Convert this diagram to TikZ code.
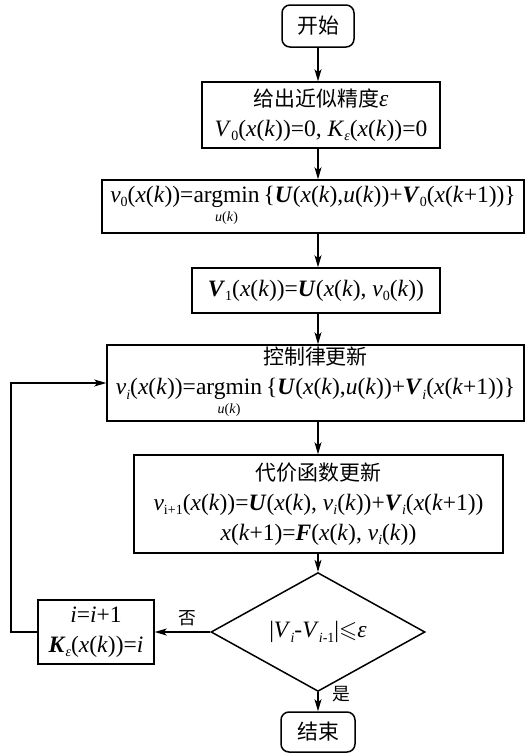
\documentclass[tikz,border=0pt]{standalone}
\usepackage{fontspec}
\usepackage{amssymb}
\setmainfont{Liberation Serif}
\newfontfamily\cjk[Scale=0.89]{Noto Sans CJK SC}
\usetikzlibrary{shapes.geometric,arrows.meta}
\newcommand\It[1]{\textit{#1}}
\newcommand\Bi[1]{\textbf{\textit{#1}}}
\newcommand\Sb[1]{\raisebox{-4.5pt}{\fontsize{14}{14}\selectfont #1}}
\newcommand\Amin{$\mathop{\hbox{argmin}}\limits_{\hbox{\fontsize{14}{14}\selectfont\It{u}(\It{k})}}$\,}
\tikzset{
  box/.style={draw, line width=1.5pt, inner sep=0pt, align=center, font=\fontsize{23.5}{30}\selectfont},
  term/.style={box, rounded corners=8pt},
  decbox/.style={draw, diamond, line width=1.5pt, inner sep=0pt, align=center, font=\fontsize{23.5}{30}\selectfont},
  lbl/.style={inner sep=0pt, font=\fontsize{20}{24}\selectfont},
  arr/.style={line width=1.2pt, -{Stealth[length=12pt,width=7pt,inset=3pt]}}
}
\begin{document}
\begin{tikzpicture}[x=1pt,y=-1pt]
\useasboundingbox (0,0) rectangle (525,756);
\coordinate (sp) at (318,0);
\coordinate (fb) at (11,0);
\node[term, minimum width=72pt, minimum height=42pt] (start) at (318,26) {\cjk 开始};
\node[box, minimum width=238pt, minimum height=66pt] (b1) at (321,115)
  {{\cjk 给出近似精度}\It{ε}\\
   \It{V}\Sb{0}(\It{x}(\It{k}))=0, \It{K}\Sb{\It{ε}}(\It{x}(\It{k}))=0};
\node[box, minimum width=422pt, minimum height=53pt] (b2) at (313,206.5)
  {\It{v}\Sb{0}(\It{x}(\It{k}))=\Amin\{\Bi{U}(\It{x}(\It{k}),\It{u}(\It{k}))+\Bi{V}\Sb{0}(\It{x}(\It{k}+1))\}};
\node[box, minimum width=248pt, minimum height=45pt] (b3) at (316,290.5)
  {\Bi{V}\Sb{1}(\It{x}(\It{k}))=\Bi{U}(\It{x}(\It{k}), \It{v}\Sb{0}(\It{k}))};
\node[box, minimum width=417pt, minimum height=76pt] (b4) at (315.5,383)
  {{\cjk 控制律更新}\\
   \It{v}\Sb{\It{i}}(\It{x}(\It{k}))=\Amin\{\Bi{U}(\It{x}(\It{k}),\It{u}(\It{k}))+\Bi{V}\Sb{\It{i}}(\It{x}(\It{k}+1))\}};
\node[box, minimum width=369pt, minimum height=98pt] (b5) at (318.5,504)
  {{\cjk 代价函数更新}\\
   \It{v}\Sb{i+1}(\It{x}(\It{k}))=\Bi{U}(\It{x}(\It{k}), \It{v}\Sb{\It{i}}(\It{k}))+\Bi{V}\Sb{\It{i}}(\It{x}(\It{k}+1))\\
   \It{x}(\It{k}+1)=\Bi{F}(\It{x}(\It{k}), \It{v}\Sb{\It{i}}(\It{k}))};
\node[decbox, minimum width=214pt, minimum height=90pt] (dec) at (318,632)
  {|\It{V}\Sb{\It{i}}-\It{V}\Sb{\It{i}-1}|$\leqslant$\It{ε}};
\node[box, minimum width=116pt, minimum height=64pt] (side) at (96,632)
  {\It{i}=\It{i}+1\\ \Bi{K}\Sb{\It{ε}}(\It{x}(\It{k}))=\It{i}};
\node[term, minimum width=74pt, minimum height=40pt] (end) at (318,732) {\cjk 结束};
\node[lbl] (no) at (187,618) {\cjk 否};
\node[lbl] (yes) at (341,694) {\cjk 是};
\draw[arr] (start.south -| sp) -- (b1.north -| sp);
\draw[arr] (b1.south -| sp) -- (b2.north -| sp);
\draw[arr] (b2.south -| sp) -- (b3.north -| sp);
\draw[arr] (b3.south -| sp) -- (b4.north -| sp);
\draw[arr] (b4.south -| sp) -- (b5.north -| sp);
\draw[arr] (b5.south -| sp) -- (dec.north);
\draw[arr] (dec.south) -- (end.north);
\draw[arr] (dec.west) -- (dec.west -| side.east);
\draw[arr] (side.west) -- (side.west -| fb) |- (b4.west);
\end{tikzpicture}
\end{document}
